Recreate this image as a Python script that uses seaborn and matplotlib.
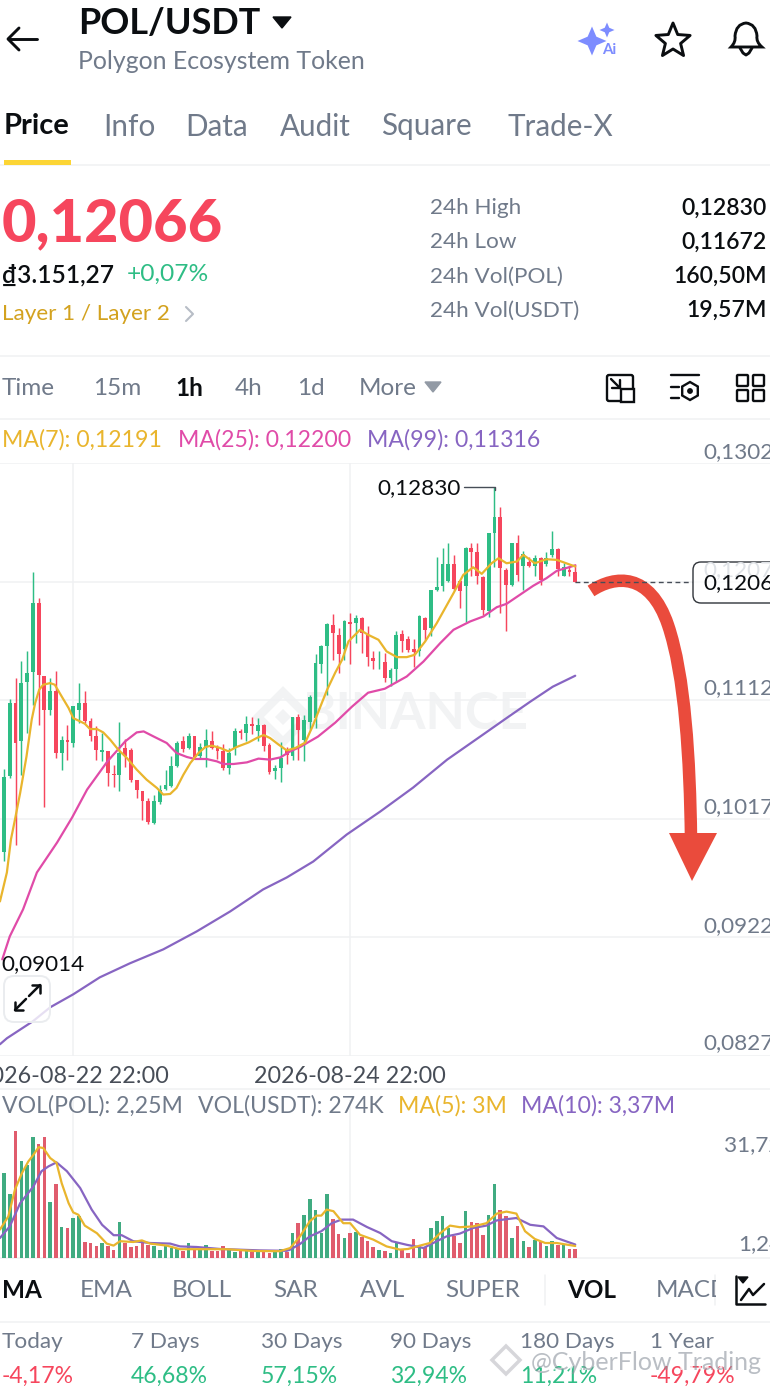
import numpy as np
import pandas as pd
import matplotlib
matplotlib.use("Agg")
import matplotlib.pyplot as plt
import seaborn as sns
from matplotlib.patches import Polygon, FancyBboxPatch, PathPatch, Rectangle, Circle
from matplotlib.path import Path

# prices are in 1e-5 USDT, one entry per hourly candle
highs = [10572,11129,11297,11436,11518,12145,11937,11316,11297,11356,
         10836,10918,11076,11257,11196,10977,10910,10857,10710,10604,
         10942,10809,10737,10484,10396,10337,10364,10444,10558,10676,
         10790,10830,10857,10830,10777,10889,10876,10764,10772,10737,
         10897,10889,10990,10985,10977,10932,10777,10604,10782,10745,
         10985,11012,11004,11164,11492,11564,11737,11809,11697,11764,
         11817,11804,11785,11711,11511,11516,11497,11377,11671,11679,
         11631,11609,11799,11785,12004,12265,12337,12377,12284,12079,
         12345,12377,12377,12111,12463,12830,12665,12177,12383,12444,
         12319,12271,12284,12271,12311,12479,12337,12217,12196,12212]
lows = [9828,10497,9964,10524,10857,11084,10924,10265,11004,10657,
        10558,10644,10745,10937,10937,10790,10644,10630,10430,10422,
        10396,10585,10462,10337,10158,10132,10129,10292,10404,10425,
        10585,10702,10729,10652,10657,10582,10729,10652,10564,10532,
        10684,10809,10790,10849,10790,10710,10529,10489,10462,10612,
        10638,10638,10630,10884,10900,11337,11164,11444,11337,11444,
        11412,11582,11497,11391,11369,11369,11262,11231,11262,11503,
        11503,11385,11471,11599,11631,11991,11991,12063,12004,11857,
        11743,12111,12052,11804,11785,12185,11817,11672,12031,12071,
        12004,12185,12111,12044,12196,12271,12111,12111,12111,12066]
opens = [9908,10511,11097,10790,11262,11343,11897,11316,11038,11191,
         10697,10798,10777,11038,11097,10950,10830,10708,10710,10532,
         10524,10737,10718,10478,10390,10310,10137,10302,10409,10436,
         10596,10790,10737,10830,10670,10745,10790,10745,10710,10577,
         10737,10870,10857,10932,10870,10924,10764,10556,10577,10729,
         10670,10985,10804,10948,10977,11412,11551,11724,11644,11529,
         11743,11737,11777,11644,11457,11431,11423,11297,11369,11652,
         11609,11529,11511,11777,11697,11999,12031,12071,12212,12071,
         12036,12337,12311,12105,11831,12463,12585,12164,12044,12383,
         12191,12231,12191,12257,12212,12284,12329,12116,12159,12143]
closes = [10508,11097,10777,11257,11337,11897,11324,11038,11191,10697,
          10804,10782,11071,11097,10950,10830,10718,10724,10537,10521,
          10697,10670,10478,10398,10310,10142,10310,10404,10444,10596,
          10777,10729,10830,10665,10745,10798,10737,10710,10577,10697,
          10870,10857,10932,10916,10924,10756,10542,10577,10657,10684,
          10985,10884,10964,11148,11417,11551,11732,11657,11492,11751,
          11732,11777,11657,11465,11431,11436,11297,11364,11644,11591,
          11524,11503,11791,11679,11999,12025,12212,12212,12009,11991,
          12337,12311,12116,11839,12457,12585,12177,12044,12383,12124,
          12292,12191,12257,12079,12257,12329,12169,12185,12143,12066]

ma7_x = [-0.7,0.5,1.2,1.9,2.8,3.9,4.8,5.4,6.1,6.8,8,8.8,10,11.2,12,13.2,14,14.9,16.1,17.2,18.4,19.8,21.3,23,
         24.7,26.5,27.6,28.8,29.9,31.1,32.3,33.7,34.9,36,37.5,38.9,40.3,42.4,43.8,45,46.1,47.6,49,50.5,52.2,
         53.6,55.1,56,57.4,58.6,59.7,61.7,63.1,64.9,66.3,68.1,69.8,71.2,73,75,77.9,79.6,81.3,82.8,84.5,85.7,
         87.1,88.9,90,92,94,95.8,99]
ma7 = [9508,9740,10004,10164,10377,10670,10964,11097,11204,11244,11257,11244,11150,11057,10977,10950,10932,10889,
       10889,10862,10804,10724,10657,10564,10484,10417,10364,10369,10417,10524,10617,10697,10745,10756,10737,10710,
       10745,10782,10817,10841,10817,10764,10718,10737,10780,10924,11100,11204,11340,11444,11591,11684,11644,11604,
       11511,11465,11465,11484,11591,11737,11977,12124,12185,12132,12217,12257,12217,12231,12284,12217,12249,12244,12191]
ma25_x = [-0.3,1,3.3,5.7,9.2,11.8,14.4,17.9,21,23,24.2,25.9,28.2,29.9,31.7,33.1,35.1,36.9,38,39.8,42.1,44.1,46.1,
          47.9,49.6,51.3,54.4,57.4,60.3,63.1,66,69.8,72.7,75.6,77.9,80.8,83.1,85.4,87.1,89.4,91.7,94,95.8,99]
ma25 = [9044,9228,9444,9740,9980,10180,10404,10628,10790,10862,10870,10830,10777,10697,10665,10649,10649,10630,
        10609,10609,10622,10652,10644,10662,10710,10745,10828,10940,11068,11180,11212,11310,11430,11577,11684,
        11751,11791,11865,11892,11964,12036,12097,12156,12200]
ma99_x = [-0.7,0.5,5,8,12,16.6,21.8,27.6,33.4,39.2,44.9,49,53.6,59.4,65.2,70.9,76.8,83,87.2,91.2,95.1,99]
ma99 = [8364,8412,8548,8660,8764,8900,9012,9124,9268,9428,9604,9700,9828,10044,10228,10420,10644,10844,10980,11108,11228,11316]

# volume in millions of POL
volumes = [21.2,16.0,31.7,24.2,23.3,30.2,28.6,30.2,14.0,18.5,7.7,7.4,10.1,10.6,4.0,3.8,3.1,3.8,2.9,2.0,
           9.1,3.8,2.8,2.9,4.6,3.3,3.1,1.9,3.1,2.4,2.3,1.8,3.8,1.9,2.3,3.3,1.7,1.7,3.1,2.1,
           1.4,1.7,2.1,1.4,1.7,1.8,1.2,1.7,2.3,1.4,6.2,8.8,10.8,14.8,12.1,6.2,16.0,9.8,6.0,5.0,
           6.2,6.4,5.2,4.3,2.8,2.1,1.8,1.2,3.8,1.9,1.2,4.8,2.9,2.8,7.5,9.3,10.6,7.5,5.4,3.8,
           11.7,9.1,8.8,5.8,10.7,18.6,12.1,10.4,5.0,7.9,4.3,2.8,4.6,4.0,3.1,4.3,3.3,3.2,2.25,2.25]
vol_ma5_x = [-0.7,0.75,1.9,3.1,4.2,5.1,6,6.8,8,9.1,10,11.2,12,12.9,14,16.1,17.8,19,20.1,22.4,23.9,25.3,28.2,30.5,
             34,38.6,43.2,47.8,49.6,51.3,53,54.2,55,55.9,57.1,58.8,60,61.7,64,66.3,68.6,70,72.1,73.8,75.6,77.3,
             79,81.3,83.6,85.4,87.1,88.8,90.3,92,93.8,95.8,99]
vol_ma5 = [7.1,10.4,17.1,21.2,24.1,25.8,27.7,27.5,25.0,23.8,18.7,13.7,11.4,10.8,8.1,6.2,3.6,3.1,4.2,4.0,4.4,3.6,3.1,2.2,
           2.2,2.2,1.75,1.7,2.5,5.4,9.2,10.6,10.6,12.1,11.7,8.7,8.7,5.8,4.6,2.9,2.1,2.25,3.1,3.75,6.2,8.1,
           7.7,7.9,8.7,11.1,11.6,11.1,6.7,4.75,3.75,3.75,3.0]
vol_ma10_x = [-0.7,1,2.8,5.1,6.5,7.7,9.1,10.9,13.2,15.2,17,19,20.4,22.4,25.3,28.8,30.5,33.4,37.5,44.4,49,49.6,51.3,53,
              55,56.8,58.5,60.5,62.9,65.2,67.2,69.8,72.7,75,76.7,79,81.3,83.6,85.4,88.8,91.2,93.5,95.8,99]
vol_ma10 = [5.0,7.9,13.7,17.9,21.7,22.9,23.9,21.7,17.5,12.1,8.3,5.7,5.7,4.2,3.75,3.6,2.9,2.75,2.25,1.9,1.8,2.1,3.5,5.4,
            6.7,8.7,9.6,9.6,7.75,6.25,4.2,3.3,2.5,4.2,5.4,6.1,7.5,8.1,9.4,10,8.3,7.9,5.0,3.37]

price_ticks = [0.1302, 0.1207, 0.1112, 0.1017, 0.0922, 0.0827]
price_labels = ["0,13020", "0,12070", "0,11120", "0,10170", "0,09220", "0,08270"]
time_ticks = [12, 60]
time_labels = ["2026-08-22 22:00", "2026-08-24 22:00"]
tabs = ["Price", "Info", "Data", "Audit", "Square", "Trade-X"]
intervals = ["Time", "15m", "1h", "4h", "1d", "More"]
indicators = ["MA", "EMA", "BOLL", "SAR", "AVL", "SUPER", "VOL", "MACD"]
period_names = ["Today", "7 Days", "30 Days", "90 Days", "180 Days", "1 Year"]
period_values = ["-4,17%", "46,68%", "57,15%", "32,94%", "11,21%", "-49,79%"]
stat_names = ["24h High", "24h Low", "24h Vol(POL)", "24h Vol(USDT)"]
stat_values = ["0,12830", "0,11672", "160,50M", "19,57M"]

GREEN = "#2ebd85"
RED = "#f6465d"
GRAY = "#707a8a"
BLACK = "#0b0e11"
GRID = "#f0f1f3"
ORANGE = "#e9b52d"
PINK = "#e04ba8"
PURPLE = "#8765c2"
FONT = "Lato"

sns.set_theme(style="white")
plt.rcParams["font.family"] = [FONT, "DejaVu Sans"]

W, H = 770, 1386
fig = plt.figure(figsize=(W / 100, H / 100), dpi=100, facecolor="white")


def px_axes(top, bottom, zorder):
    a = fig.add_axes([0, 1 - bottom / H, 1, (bottom - top) / H], zorder=zorder)
    a.patch.set_alpha(0)
    return a


def index_lim():
    # one candle every 5.77 px, candle 0 sits at x = 4 px
    return (0 - 4) / 5.77, (W - 4) / 5.77


bg = px_axes(0, H, 0)
fg = px_axes(0, H, 5)
for a in (bg, fg):
    a.set_xlim(0, W)
    a.set_ylim(H, 0)
    a.axis("off")


def txt(x, y, s, size, color=BLACK, ha="left", weight="normal", ax=fg, **kw):
    return ax.text(x, y + 1.5, s, fontsize=size * 0.72, color=color, ha=ha, va="center",
                   fontweight=weight, **kw)


# ---- price panel
ax = px_axes(463, 1056, 2)
o, c, h, l = [np.array(v) / 1e5 for v in (opens, closes, highs, lows)]
idx = np.arange(len(o))
up = c >= o
colors = np.where(up, GREEN, RED)
ax.vlines(idx, l, h, colors=colors, linewidth=1.05, zorder=3)
ax.bar(idx, np.abs(c - o), bottom=np.minimum(o, c), width=0.66, color=colors, linewidth=0, zorder=3)
for xs, ys, col in [(ma99_x, ma99, PURPLE), (ma25_x, ma25, PINK), (ma7_x, ma7, ORANGE)]:
    sns.lineplot(x=xs, y=np.array(ys) / 1e5, color=col, linewidth=1.6, errorbar=None, ax=ax, zorder=4)
ax.set_xlim(*index_lim())
ax.set_ylim(0.0827, 0.1302)
ax.set_yticks(price_ticks)
ax.set_yticklabels([])
ax.set_xticks(time_ticks)
ax.set_xticklabels(time_labels, fontsize=23.2 * 0.72, color="#474d57")
ax.tick_params(length=0, pad=7)
ax.grid(True, color=GRID, linewidth=1.1)
ax.set_axisbelow(True)
sns.despine(ax=ax, left=True, bottom=True, top=True, right=True)
ax.set_xlabel("")
ax.set_ylabel("")

# ---- volume panel
vax = px_axes(1100, 1258, 2)
frame = pd.DataFrame({"i": idx, "vol": volumes, "side": np.where(up, "up", "down")})
sns.barplot(data=frame, x="i", y="vol", hue="side", palette={"up": GREEN, "down": RED},
            native_scale=True, width=0.62, dodge=False, legend=False, ax=vax, linewidth=0, zorder=3)
for xs, ys, col in [(vol_ma10_x, vol_ma10, PURPLE), (vol_ma5_x, vol_ma5, ORANGE)]:
    sns.lineplot(x=xs, y=ys, color=col, linewidth=1.6, errorbar=None, ax=vax, zorder=4)
vax.set_xlim(*index_lim())
vax.set_ylim(0, 39.5)
vax.set_xticks(time_ticks)
vax.set_xticklabels([])
vax.set_yticks([])
vax.tick_params(length=0)
vax.grid(True, axis="x", color=GRID, linewidth=1.1)
vax.set_axisbelow(True)
vax.set_xlabel("")
vax.set_ylabel("")
sns.despine(ax=vax, left=True, top=True, right=True, bottom=True)

# ---- separators
for y in [165, 356, 419, 1089, 1258, 1322]:
    bg.plot([0, W], [y, y], color=GRID, linewidth=1.1)
for x in [545]:
    bg.plot([x, x], [1275, 1305], color=GRID, linewidth=1.1)

# watermark behind the candles
bg.add_patch(Polygon([(283, 692), (308, 717), (283, 742), (258, 717)], closed=True, fill=False,
                     edgecolor="#f2f3f4", linewidth=6))
bg.add_patch(Polygon([(283, 709), (291, 717), (283, 725), (275, 717)], closed=True, color="#f2f3f4", lw=0))
txt(416, 713, "BINANCE", 51, "#f2f3f4", ha="center", weight="bold", ax=bg)

# ---- header
fg.plot([9, 37], [39, 39], color=BLACK, lw=2.1, solid_capstyle="round")
fg.plot([19, 8, 19], [28, 39, 50], color=BLACK, lw=2.1, solid_capstyle="round", solid_joinstyle="round")
txt(78, 22, "POL/USDT", 36, BLACK, weight="bold")
fg.add_patch(Polygon([(273, 17), (291, 17), (282, 28)], closed=True, color=BLACK))
txt(78, 60, "Polygon Ecosystem Token", 24.9, GRAY)


def sparkle(x, y, r, col):
    q = r * 0.3
    pts = [(x, y - r), (x + q, y - q), (x + r, y), (x + q, y + q), (x, y + r), (x - q, y + q), (x - r, y), (x - q, y - q)]
    fg.add_patch(Polygon(pts, closed=True, color=col, lw=0))


sparkle(592, 41, 14.5, "#7d8cff")
sparkle(607, 30, 7.5, "#7d8cff")
txt(609, 48, "Ai", 15, "#7d8cff", ha="center", weight="bold")

star = [(673 + (18 if k % 2 == 0 else 8) * np.sin(k * np.pi / 5),
         41 - (18 if k % 2 == 0 else 8) * np.cos(k * np.pi / 5)) for k in range(10)]
fg.add_patch(Polygon(star, closed=True, fill=False, edgecolor=BLACK, lw=2.1, joinstyle="round"))

bell = Path([(731, 47), (736, 42), (735, 36), (736, 24), (746, 23), (756, 24), (757, 36), (756, 42), (762, 47), (731, 47)],
            [Path.MOVETO, Path.CURVE3, Path.CURVE3, Path.CURVE3, Path.CURVE3, Path.CURVE3, Path.CURVE3, Path.CURVE3, Path.CURVE3, Path.CLOSEPOLY])
fg.add_patch(PathPatch(bell, fill=False, edgecolor=BLACK, lw=2.1))
fg.plot([740, 743, 746, 749, 752], [48, 53, 55, 53, 48], color=BLACK, lw=2.1)

# ---- tabs
for name, x in zip(tabs, [4, 103, 185, 280, 381, 508]):
    txt(x, 125, name, 29 if name == "Price" else 29.6, BLACK if name == "Price" else GRAY, weight="bold" if name == "Price" else "normal")
fg.add_patch(Rectangle((4, 160), 67, 5, color="#fcd535", lw=0))

# ---- price block
txt(2, 222, "0,12066", 59.5, RED, weight="black")
txt(2, 273, "\u20ab3.151,27", 24.5, BLACK, weight="semibold")
txt(127, 273, "+0,07%", 24.5, GREEN)
txt(2, 313, "Layer 1 / Layer 2", 22.5, "#d3a21f")
fg.plot([186, 193, 186], [307, 314, 321], color="#b7bdc6", lw=1.5)
for name, val, y in zip(stat_names, stat_values, [207, 241, 275, 309]):
    txt(430, y, name, 22.5, GRAY)
    txt(767, y, val, 23, BLACK, ha="right", weight="semibold")

# ---- interval row
for name, x in zip(intervals, [2, 93, 175, 235, 297, 359]):
    txt(x, 387, name, 24.2, BLACK if name == "1h" else GRAY, weight="bold" if name == "1h" else "normal")
fg.add_patch(Polygon([(425, 382), (441, 382), (433, 392)], closed=True, color="#929aa5"))

fg.add_patch(FancyBboxPatch((607, 375), 26, 26, boxstyle="round,pad=0,rounding_size=2", fill=False, edgecolor=BLACK, lw=1.7))
fg.add_patch(Rectangle((621, 389), 13, 13, facecolor="white", edgecolor=BLACK, lw=1.7))
fg.plot([611, 620], [379, 388], color=BLACK, lw=1.7)
fg.plot([612, 620, 620], [388, 388, 380], color=BLACK, lw=1.7)
fg.plot([671, 699], [375, 375], color=BLACK, lw=1.7)
fg.plot([671, 679], [387, 387], color=BLACK, lw=1.7)
fg.plot([671, 679], [398, 398], color=BLACK, lw=1.7)
fg.add_patch(Polygon([(690 + 9 * np.sin(k * np.pi / 3), 391 - 9 * np.cos(k * np.pi / 3)) for k in range(6)],
                     closed=True, fill=False, edgecolor=BLACK, lw=1.7))
fg.add_patch(Circle((690, 391), 2.2, color=BLACK))
for bx, by in [(737, 375), (753, 375), (737, 390), (753, 390)]:
    fg.add_patch(FancyBboxPatch((bx, by), 11, 11, boxstyle="round,pad=0,rounding_size=1", fill=False, edgecolor=BLACK, lw=1.7))

# ---- legends
for s, x, col in [("MA(7): 0,12191", 2, ORANGE), ("MA(25): 0,12200", 178, PINK), ("MA(99): 0,11316", 367, PURPLE)]:
    txt(x, 438, s, 23, col)
for s, x, col in [("VOL(POL): 2,25M", 2, GRAY), ("VOL(USDT): 274K", 198, GRAY), ("MA(5): 3M", 398, ORANGE), ("MA(10): 3,37M", 521, PURPLE)]:
    txt(x, 1104, s, 23, col)

# ---- axis texts inside the chart
for s, y in zip(price_labels, [451, 569, 687, 806, 925, 1042]):
    txt(703, y, s, 22.5, "#dfe2e6" if s == "0,12070" else GRAY)
txt(724, 1144, "31,72M", 22.5, GRAY)
txt(738, 1243, "1,24M", 22.5, GRAY)

fg.plot([575, 692], [582, 582], color="#474d57", lw=1, dashes=(3.5, 2.5))
fg.add_patch(FancyBboxPatch((693, 562), 100, 41, boxstyle="round,pad=0,rounding_size=8",
                            facecolor=(1, 1, 1, 0.75), edgecolor="#30343a", lw=1))
txt(703, 582, "0,12066", 22.5, BLACK)

txt(377, 487, "0,12830", 22.5, BLACK)
fg.plot([464, 495, 495], [487, 487, 490], color="#474d57", lw=1)
txt(1, 963, "0,09014", 22.5, BLACK)

fg.add_patch(FancyBboxPatch((4, 976), 46, 46, boxstyle="round,pad=0,rounding_size=10",
                            facecolor=(1, 1, 1, 0.8), edgecolor="#eaecef", lw=1.4))
fg.plot([29, 40], [996, 985], color=BLACK, lw=1.8)
fg.plot([32, 40, 40], [985, 985, 993], color=BLACK, lw=1.8)
fg.plot([15, 26], [1010, 999], color=BLACK, lw=1.8)
fg.plot([15, 15, 23], [1002, 1010, 1010], color=BLACK, lw=1.8)

# ---- the hand drawn red arrow
arrow = Path([(591, 591), (615, 575), (650, 572), (668, 625), (685, 675), (690, 760), (691, 838)],
             [Path.MOVETO, Path.CURVE4, Path.CURVE4, Path.CURVE4, Path.CURVE4, Path.CURVE4, Path.CURVE4])
fg.add_patch(PathPatch(arrow, fill=False, edgecolor="#ea4b3c", lw=9, capstyle="butt"))
fg.add_patch(Polygon([(669, 833), (717, 833), (692, 881)], closed=True, color="#ea4b3c", lw=0))

# ---- indicator tabs
for name, x in zip(indicators, [2, 80, 172, 273, 360, 445, 567, 656]):
    t = txt(x, 1289, name, 24.2, BLACK if name in ("MA", "VOL") else GRAY, weight="bold" if name in ("MA", "VOL") else "normal")
    if name == "MACD":
        t.set_clip_path(Rectangle((0, 1260), 716, 60, transform=fg.transData))
        t.set_clip_on(True)
fg.plot([715, 715], [1275, 1305], color=GRID, lw=1.1)
fg.plot([736, 736, 765], [1276, 1304, 1304], color=BLACK, lw=1.8)
fg.plot([741, 749, 753, 764], [1300, 1289, 1295, 1284], color=BLACK, lw=1.8)
fg.add_patch(Polygon([(738, 1277), (748, 1277), (743, 1283)], closed=True, color=BLACK))

# ---- performance row
for name, val, x in zip(period_names, period_values, [2, 131, 261, 390, 520, 650]):
    txt(x, 1341, name, 22.5, GRAY)
    txt(x, 1375, val, 23, RED if val.startswith("-") else GREEN)

# image watermark in the corner
for dx, col in [(0, (1, 1, 1, 0.8)), (4, (0.55, 0.58, 0.62, 0.6))]:
    txt(527 + dx, 1361, "@CyberFlow Trading", 25, col)
fg.add_patch(Polygon([(506, 1346), (520, 1360), (506, 1374), (492, 1360)], closed=True, fill=False,
                     edgecolor=(0.8, 0.8, 0.82, 0.8), lw=2.5))

fig.savefig("out.png", dpi=100)
